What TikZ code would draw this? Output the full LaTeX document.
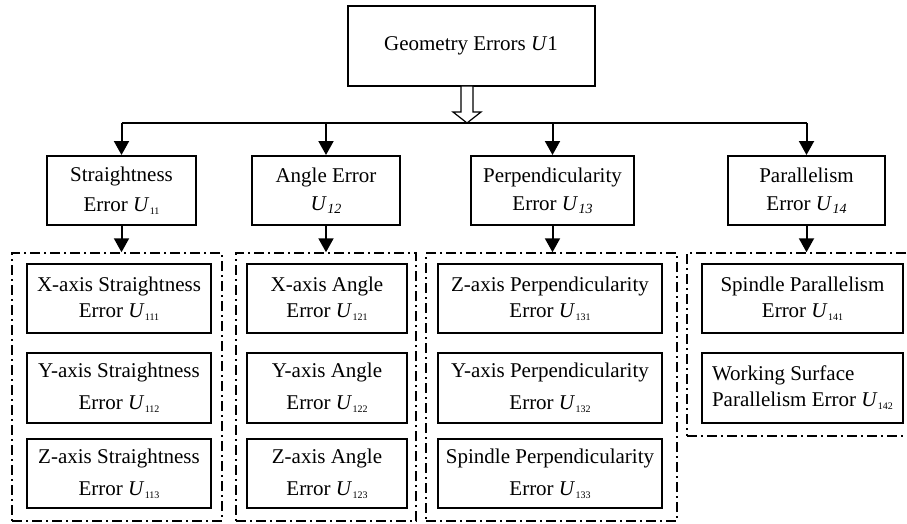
\documentclass[tikz,border=0pt]{standalone}
\usepackage{fontspec}
\setmainfont{Liberation Serif}
\usetikzlibrary{arrows.meta}
\newcommand\Ua[1]{\textit{U}\kern0.3pt\raisebox{-3pt}{\fontsize{10}{10}\selectfont #1}}
\newcommand\Ui[1]{\textit{U}\kern0.3pt\raisebox{-3pt}{\fontsize{14}{14}\selectfont\itshape #1}}
\tikzset{
  box/.style={draw, line width=2pt, rectangle, inner sep=0pt, align=center,
    font=\fontsize{21}{26}\selectfont},
  grp/.style={draw, line width=1.5pt, rectangle, inner sep=0pt,
    dash pattern=on 10pt off 4pt on 2pt off 4pt},
  arr/.style={line width=2pt, -{Triangle[width=15pt,length=14pt]}},
  hollow/.style={draw, line width=1.2pt, fill=white}
}
\begin{document}
\begin{tikzpicture}[x=1pt,y=-1pt]
\useasboundingbox (0,0) rectangle (907,524);
% top
\node[box, minimum width=247pt, minimum height=80pt] (top) at (471,46) {Geometry Errors \textit{U}1};
% level 2
\node[box, minimum width=149pt, minimum height=69pt] (a) at (121.5,190.5) {Straightness\\[4pt]Error \Ua{11}};
\node[box, minimum width=148pt, minimum height=69pt] (b) at (326,190.5) {Angle Error\\[2pt]\Ui{12}};
\node[box, minimum width=163pt, minimum height=69pt] (c) at (552.5,190.5) {Perpendicularity\\[2pt]Error \Ui{13}};
\node[box, minimum width=157pt, minimum height=69pt] (d) at (806.5,190.5) {Parallelism\\[2pt]Error \Ui{14}};
% groups
\node[grp, minimum width=210pt, minimum height=268pt] (ga) at (117,387) {};
\node[grp, minimum width=180pt, minimum height=268pt] (gb) at (326,387) {};
\node[grp, minimum width=251pt, minimum height=268pt] (gc) at (551.5,387) {};
\node[grp, minimum width=228pt, minimum height=183pt] (gd) at (801,344.5) {};
% level 3
\node[box, minimum width=184pt, minimum height=69pt] (a1) at (119,298.5) {X-axis Straightness\\Error \Ua{111}};
\node[box, minimum width=184pt, minimum height=70pt] (a2) at (119,388) {Y-axis Straightness\\[6pt]Error \Ua{112}};
\node[box, minimum width=184pt, minimum height=69pt] (a3) at (119,473.5) {Z-axis Straightness\\[6pt]Error \Ua{113}};
\node[box, minimum width=160pt, minimum height=69pt] (b1) at (327,298.5) {X-axis Angle\\Error \Ua{121}};
\node[box, minimum width=160pt, minimum height=70pt] (b2) at (327,388) {Y-axis Angle\\[6pt]Error \Ua{122}};
\node[box, minimum width=160pt, minimum height=69pt] (b3) at (327,473.5) {Z-axis Angle\\[6pt]Error \Ua{123}};
\node[box, minimum width=224pt, minimum height=69pt] (c1) at (550,298.5) {Z-axis Perpendicularity\\Error \Ua{131}};
\node[box, minimum width=224pt, minimum height=70pt] (c2) at (550,388) {Y-axis Perpendicularity\\[6pt]Error \Ua{132}};
\node[box, minimum width=224pt, minimum height=69pt] (c3) at (550,473.5) {Spindle Perpendicularity\\[6pt]Error \Ua{133}};
\node[box, minimum width=201pt, minimum height=69pt] (d1) at (802.5,298.5) {Spindle Parallelism\\Error \Ua{141}};
\node[box, minimum width=201pt, minimum height=70pt, align=left] (d2) at (802.5,388) {Working Surface\\Parallelism Error \Ua{142}};
% bus
\coordinate (bus) at (467,123);
\draw[line width=2pt] (a.north |- bus) -- (d.north |- bus);
\foreach \n in {a,b,c,d} \draw[arr] (\n.north |- bus) -- (\n.north);
\draw[arr] (a.south) -- (a.south |- ga.north);
\draw[arr] (b.south) -- (b.south |- gb.north);
\draw[arr] (c.south) -- (c.south |- gc.north);
\draw[arr] (d.south) -- (d.south |- gd.north);
% hollow arrow
\draw[hollow] (461,86) -- (473,86) -- (473,112) -- (481,112) -- (bus) -- (453,112) -- (461,112) -- cycle;
\end{tikzpicture}
\end{document}
